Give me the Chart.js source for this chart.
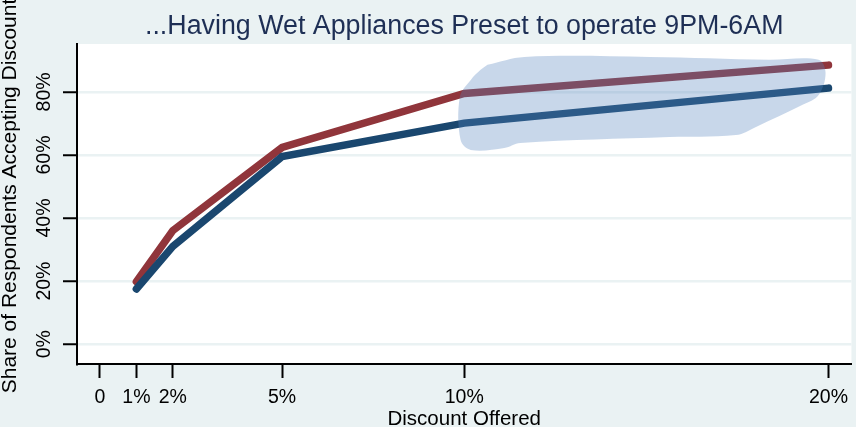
<!DOCTYPE html>
<html>
<head>
<meta charset="utf-8">
<script src="https://cdn.jsdelivr.net/npm/chart.js@4.4.1/dist/chart.umd.min.js"></script>
<style>
  html, body { margin: 0; padding: 0; background: #eaf2f3; }
  canvas { display: block; }
</style>
</head>
<body>
<canvas id="chart" width="856" height="427"></canvas>
<script>
// Data (discount in %, share in %)
const discounts = [1, 2, 5, 10, 20];
const blueShare = [17.5, 31, 59.5, 70.1, 81.2];
const redShare = [19.8, 36, 62.4, 79.5, 88.5];
const xTicks = [0, 1, 2, 5, 10, 20];
const yTicks = [0, 20, 40, 60, 80];

// Hand-drawn highlight around the 10%-20% segment
const blobX = [10.64, 11.65, 15.09, 18.36, 19.73, 19.92, 19.73, 19.29, 18.01, 17.46, 15.63, 11.54, 11.10, 10.18, 9.90, 9.88, 10.18, 10.45, 10.64];
const blobY = [88.6, 91.1, 91.1, 90.2, 90.2, 86.0, 79.0, 75.9, 68.9, 66.3, 65.7, 63.8, 62.2, 61.6, 64.8, 78.4, 83.8, 87.0, 88.6];

const FONT = '"Liberation Sans", Arial, sans-serif';
const BG = '#eaf2f3';

const toPoints = (xs, ys) => xs.map((x, i) => ({ x: x, y: ys[i] }));

// Background, titles and rotated y tick labels
Chart.register({
    id: 'stataLook',
    beforeDraw(chart) {
        const ctx = chart.ctx;
        const a = chart.chartArea;
        ctx.save();
        ctx.fillStyle = BG;
        ctx.fillRect(0, 0, chart.width, chart.height);
        ctx.fillStyle = '#ffffff';
        ctx.fillRect(a.left, a.top, a.right - a.left, a.bottom - a.top);
        ctx.restore();
    },
    afterDraw(chart) {
        const ctx = chart.ctx;
        const a = chart.chartArea;
        const yScale = chart.scales.y;
        ctx.save();
        // title
        ctx.fillStyle = '#1e2f55';
        ctx.font = `26.8px ${FONT}`;
        ctx.textAlign = 'center';
        ctx.textBaseline = 'alphabetic';
        ctx.fillText('...Having Wet Appliances Preset to operate 9PM-6AM', (a.left + a.right) / 2, 34);
        // x title
        ctx.fillStyle = '#000';
        ctx.font = `20.5px ${FONT}`;
        ctx.fillText('Discount Offered', (a.left + a.right) / 2, 425);
        // y tick labels
        ctx.font = `19.5px ${FONT}`;
        yTicks.forEach(v => {
            ctx.save();
            ctx.translate(50, yScale.getPixelForValue(v));
            ctx.rotate(-Math.PI / 2);
            ctx.fillText(v + '%', 0, 0);
            ctx.restore();
        });
        // y title
        ctx.font = `21px ${FONT}`;
        ctx.translate(16, 196);
        ctx.rotate(-Math.PI / 2);
        ctx.fillText('Share of Respondents Accepting Discount', 0, 0);
        ctx.restore();
    },
});

new Chart(document.getElementById('chart').getContext('2d'), {
    type: 'line',
    data: {
        datasets: [
            {
                data: toPoints(blobX, blobY),
                borderWidth: 0,
                pointRadius: 0,
                tension: 0.35,
                fill: 'shape',
                backgroundColor: 'rgba(85, 132, 190, 0.32)',
                borderColor: 'rgba(0, 0, 0, 0)',
            },
            {
                data: toPoints(discounts, blueShare),
                borderColor: '#1a476f',
                borderWidth: 7.5,
                borderCapStyle: 'round',
                pointRadius: 0,
                fill: false,
            },
            {
                data: toPoints(discounts, redShare),
                borderColor: '#90353b',
                borderWidth: 7.5,
                borderCapStyle: 'round',
                pointRadius: 0,
                fill: false,
            },
        ],
    },
    options: {
        responsive: false,
        animation: false,
        layout: { padding: { top: 44, left: 0, right: 0, bottom: 0 } },
        plugins: {
            legend: { display: false },
            tooltip: { enabled: false },
            title: { display: false },
        },
        scales: {
            x: {
                type: 'linear',
                min: -0.63,
                max: 20.63,
                afterBuildTicks: scale => { scale.ticks = xTicks.map(v => ({ value: v })); },
                afterFit: scale => { scale.height = 63; },
                ticks: {
                    color: '#000',
                    font: { family: FONT, size: 19.5 },
                    padding: 8,
                    maxRotation: 0,
                    autoSkip: false,
                    callback: v => (v === 0 ? '0' : v + '%'),
                },
                grid: {
                    drawOnChartArea: false,
                    tickLength: 14,
                    tickColor: '#000',
                    tickWidth: 2,
                },
                border: { color: '#000', width: 2 },
            },
            y: {
                type: 'linear',
                min: -6.3,
                max: 95.2,
                afterBuildTicks: scale => { scale.ticks = yTicks.map(v => ({ value: v })); },
                afterFit: scale => { scale.width = 77; },
                ticks: { display: false },
                grid: {
                    color: BG,
                    lineWidth: 2.5,
                    tickLength: 14,
                    tickColor: '#000',
                    tickWidth: 2,
                },
                border: { color: '#000', width: 2 },
            },
        },
    },
});
</script>
</body>
</html>
